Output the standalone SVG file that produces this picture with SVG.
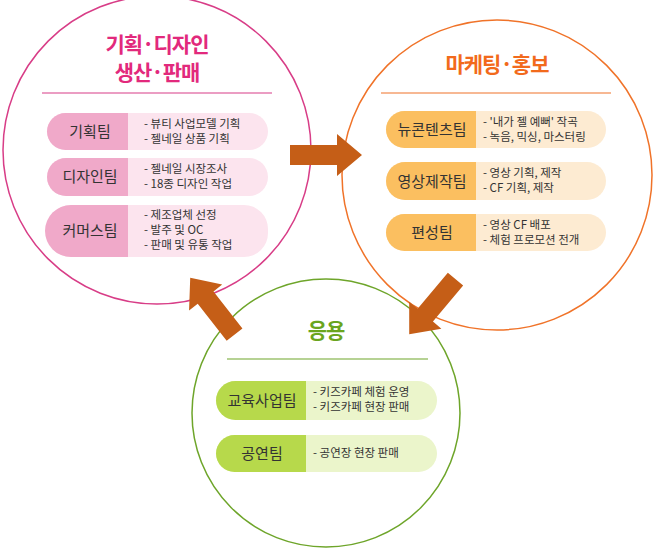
<svg xmlns="http://www.w3.org/2000/svg" width="654" height="549" viewBox="0 0 654 549">
<style>
text{font-family:"Noto Sans CJK KR","Noto Sans",sans-serif}
.t{font-size:21px;font-weight:bold;text-anchor:middle;letter-spacing:-1px}
.n{font-size:15px;text-anchor:middle;fill:#333}
.d{font-size:11.5px;fill:#333}
.arr{fill:#c55e17}
</style>
<rect width="654" height="549" fill="#fff"/>
<g id="pink">
<circle cx="157" cy="150" r="154" fill="#fff" stroke="#d83d87" stroke-width="1.5"/>
<text class="t" x="157" y="52" fill="#e2297c">기획·디자인</text>
<text class="t" x="157" y="80" fill="#e2297c">생산·판매</text>
<line x1="42" y1="93" x2="272" y2="93" stroke="#d83d87" stroke-width="1.2"/>
<g id="p1"><rect x="47" y="113" width="221" height="37" rx="18.5" fill="#fce4ee"/><path d="M128 113H65.5a18.5 18.5 0 0 0 0 37H128z" fill="#f0a9c9"/><text class="n" x="90" y="137">기획팀</text><text class="d" x="144" y="128">- 뷰티 사업모델 기획</text><text class="d" x="144" y="143">- 젤네일 상품 기획</text></g>
<g id="p2"><rect x="47" y="158" width="221" height="38" rx="19" fill="#fce4ee"/><path d="M128 158H66a19 19 0 0 0 0 38H128z" fill="#f0a9c9"/><text class="n" x="90" y="182">디자인팀</text><text class="d" x="144" y="173">- 젤네일 시장조사</text><text class="d" x="144" y="188">- 18종 디자인 작업</text></g>
<g id="p3"><rect x="47" y="205" width="221" height="52" rx="24" fill="#fce4ee"/><path d="M128 205H71a24 24 0 0 0 0 52H128z" fill="#f0a9c9"/><text class="n" x="90" y="236">커머스팀</text><text class="d" x="144" y="219">- 제조업체 선정</text><text class="d" x="144" y="234">- 발주 및 OC</text><text class="d" x="144" y="249">- 판매 및 유통 작업</text></g>
</g>
<g id="orange">
<circle cx="497" cy="175" r="155" fill="#fff" stroke="#f07329" stroke-width="1.5"/>
<text class="t" x="497" y="72" fill="#f26a1c">마케팅·홍보</text>
<line x1="381" y1="93" x2="611" y2="93" stroke="#f07329" stroke-width="1.2"/>
<g id="o1"><rect x="386" y="111" width="220" height="37" rx="18.5" fill="#fdebd2"/><path d="M476 111H404.5a18.5 18.5 0 0 0 0 37H476z" fill="#fbbf60"/><text class="n" x="432" y="135">뉴콘텐츠팀</text><text class="d" x="483" y="126">- '내가 젤 예뻐' 작곡</text><text class="d" x="483" y="141">- 녹음, 믹싱, 마스터링</text></g>
<g id="o2"><rect x="386" y="162" width="220" height="38" rx="19" fill="#fdebd2"/><path d="M476 162H405a19 19 0 0 0 0 38H476z" fill="#fbbf60"/><text class="n" x="432" y="187">영상제작팀</text><text class="d" x="483" y="177">- 영상 기획, 제작</text><text class="d" x="483" y="192">- CF 기획, 제작</text></g>
<g id="o3"><rect x="386" y="214" width="220" height="37" rx="18.5" fill="#fdebd2"/><path d="M476 214H404.5a18.5 18.5 0 0 0 0 37H476z" fill="#fbbf60"/><text class="n" x="432" y="238">편성팀</text><text class="d" x="483" y="229">- 영상 CF 배포</text><text class="d" x="483" y="244">- 체험 프로모션 전개</text></g>
</g>
<g id="green">
<circle cx="326" cy="413" r="134" fill="#fff" stroke="#6ea52a" stroke-width="1.5"/>
<text class="t" x="326" y="338" fill="#6aa51e">응용</text>
<line x1="227" y1="359" x2="428" y2="359" stroke="#6ea52a" stroke-width="1.2"/>
<g id="g1"><rect x="216" y="381" width="221" height="39" rx="19.5" fill="#ebf5cb"/><path d="M306 381H235.5a19.5 19.5 0 0 0 0 39H306z" fill="#b7d94b"/><text class="n" x="262" y="406">교육사업팀</text><text class="d" x="313" y="396">- 키즈카페 체험 운영</text><text class="d" x="313" y="411">- 키즈카페 현장 판매</text></g>
<g id="g2"><rect x="216" y="435" width="221" height="37" rx="18.5" fill="#ebf5cb"/><path d="M306 435H234.5a18.5 18.5 0 0 0 0 37H306z" fill="#b7d94b"/><text class="n" x="262" y="459">공연팀</text><text class="d" x="313" y="457">- 공연장 현장 판매</text></g>
</g>
<g id="connectors">
<polygon class="arr" points="290,145 337,145 337,134 362,155 337,176 337,165 290,165"/>
<polygon class="arr" transform="rotate(130 433 306)" points="398,296 445,296 445,285 470,306 445,327 445,316 398,316"/>
<polygon class="arr" transform="rotate(-128 213 307)" points="178,297 225,297 225,286 250,307 225,328 225,317 178,317"/>
</g>
</svg>
